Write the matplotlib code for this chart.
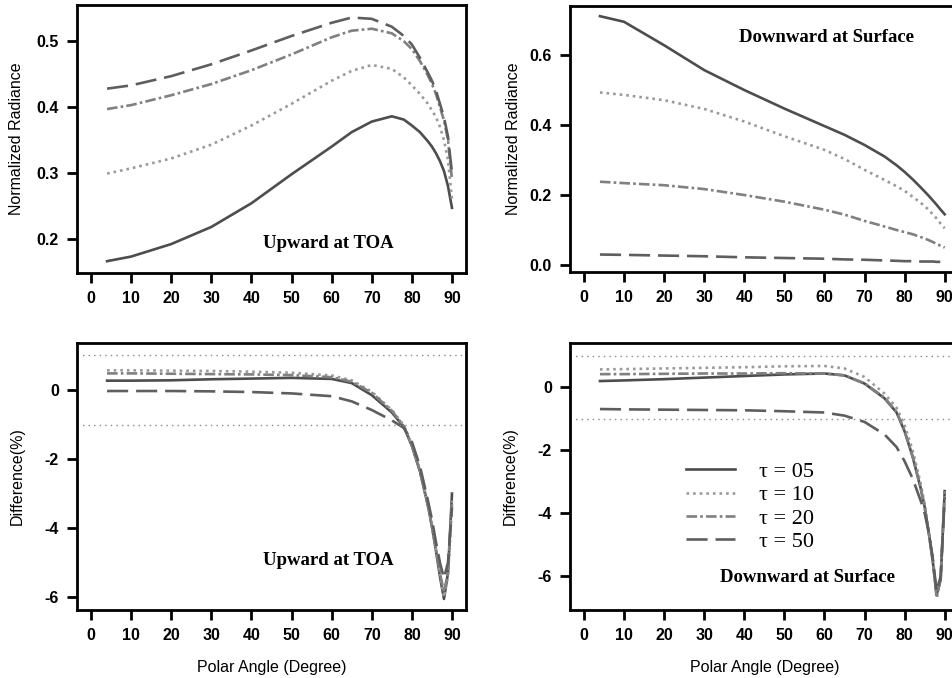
import numpy as np
import matplotlib.pyplot as plt

# angoli polari (gradi)
angoli = [4, 10, 20, 30, 40, 50, 60, 65, 70, 75, 78, 80, 82, 84, 85, 86, 87, 88, 89, 90]
etichette = ["\u03c4 = 05", "\u03c4 = 10", "\u03c4 = 20", "\u03c4 = 50"]

# radianza normalizzata, verso l'alto al TOA
rad_su = [
    [0.166, 0.173, 0.192, 0.218, 0.254, 0.298, 0.340, 0.362, 0.378, 0.386, 0.381, 0.372, 0.362, 0.348, 0.340, 0.330, 0.318, 0.303, 0.280, 0.247],
    [0.299, 0.307, 0.322, 0.343, 0.372, 0.405, 0.440, 0.455, 0.464, 0.458, 0.445, 0.433, 0.420, 0.405, 0.395, 0.385, 0.370, 0.350, 0.320, 0.260],
    [0.397, 0.403, 0.418, 0.435, 0.456, 0.480, 0.506, 0.516, 0.519, 0.512, 0.500, 0.488, 0.470, 0.448, 0.435, 0.420, 0.400, 0.380, 0.350, 0.290],
    [0.428, 0.433, 0.447, 0.465, 0.486, 0.508, 0.528, 0.536, 0.534, 0.522, 0.508, 0.495, 0.475, 0.452, 0.440, 0.425, 0.405, 0.385, 0.355, 0.300],
]

# radianza normalizzata, verso il basso alla superficie
rad_giu = [
    [0.711, 0.695, 0.628, 0.557, 0.500, 0.447, 0.397, 0.372, 0.343, 0.310, 0.285, 0.266, 0.245, 0.222, 0.210, 0.198, 0.185, 0.172, 0.158, 0.145],
    [0.493, 0.486, 0.471, 0.446, 0.410, 0.368, 0.329, 0.303, 0.272, 0.243, 0.225, 0.212, 0.195, 0.178, 0.168, 0.158, 0.145, 0.133, 0.118, 0.105],
    [0.238, 0.234, 0.228, 0.217, 0.200, 0.181, 0.158, 0.144, 0.126, 0.110, 0.100, 0.094, 0.088, 0.080, 0.076, 0.071, 0.066, 0.060, 0.055, 0.050],
    [0.030, 0.029, 0.027, 0.025, 0.022, 0.020, 0.018, 0.016, 0.015, 0.013, 0.012, 0.011, 0.011, 0.010, 0.010, 0.010, 0.010, 0.009, 0.009, 0.009],
]

# differenza percentuale, verso l'alto al TOA
diff_su = [
    [0.27, 0.27, 0.28, 0.31, 0.33, 0.35, 0.32, 0.20, -0.15, -0.65, -1.07, -1.62, -2.35, -3.35, -3.95, -4.65, -5.40, -6.05, -5.30, -3.00],
    [0.57, 0.57, 0.56, 0.55, 0.53, 0.50, 0.42, 0.28, -0.05, -0.58, -1.02, -1.58, -2.30, -3.30, -3.90, -4.60, -5.35, -6.00, -5.40, -3.20],
    [0.48, 0.48, 0.47, 0.46, 0.45, 0.43, 0.37, 0.24, -0.08, -0.60, -1.05, -1.60, -2.35, -3.35, -3.95, -4.60, -5.30, -5.85, -5.30, -3.30],
    [-0.03, -0.03, -0.03, -0.04, -0.06, -0.10, -0.18, -0.33, -0.58, -0.88, -1.10, -1.50, -2.20, -3.20, -3.75, -4.40, -5.00, -5.45, -5.00, -3.40],
]

# differenza percentuale, verso il basso alla superficie
diff_giu = [
    [0.20, 0.22, 0.26, 0.31, 0.36, 0.41, 0.44, 0.38, 0.12, -0.35, -0.80, -1.40, -2.20, -3.20, -3.80, -4.60, -5.50, -6.60, -6.10, -3.30],
    [0.57, 0.58, 0.60, 0.62, 0.64, 0.67, 0.68, 0.60, 0.33, -0.20, -0.65, -1.20, -2.00, -3.05, -3.70, -4.50, -5.40, -6.50, -6.00, -3.40],
    [0.42, 0.42, 0.43, 0.44, 0.44, 0.45, 0.44, 0.38, 0.13, -0.33, -0.78, -1.38, -2.20, -3.20, -3.80, -4.60, -5.50, -6.70, -6.10, -3.30],
    [-0.69, -0.70, -0.71, -0.72, -0.73, -0.76, -0.80, -0.90, -1.10, -1.50, -1.90, -2.35, -2.90, -3.60, -4.00, -4.60, -5.40, -6.50, -6.00, -3.50],
]

stili = ["-", (0, (1, 1.5)), (0, (4, 1.2, 1, 1.2)), (0, (8, 3))]
colori = ["#4d4d4d", "#9a9a9a", "#808080", "#5e5e5e"]

plt.rcParams['font.family'] = 'Liberation Sans'

fig = plt.figure(figsize=(9.53, 6.78), dpi=100)

def prepara_asse(ax, ylim, yticks, yfmt, ylabel, ylab_x, xlabel=None):
    ax.set_xlim(-3.5, 93.5)
    ax.set_ylim(*ylim)
    ax.set_xticks(range(0, 91, 10))
    ax.set_yticks(yticks)
    ax.set_yticklabels([yfmt % v for v in yticks])
    for s in ax.spines.values():
        s.set_linewidth(2)
    ax.tick_params(direction='out', length=7, width=2, labelsize=11.5, pad=6)
    for lab in ax.get_xticklabels() + ax.get_yticklabels():
        lab.set_fontweight('bold')
    ax.set_ylabel(ylabel, fontsize=11.5)
    ax.yaxis.set_label_coords(ylab_x, 0.5)
    if xlabel:
        ax.set_xlabel(xlabel, fontsize=11.5, labelpad=12)

def disegna(ax, serie):
    for i, valori in enumerate(serie):
        ax.plot(angoli, valori, linestyle=stili[i], color=colori[i], lw=1.9, label=etichette[i])

ax1 = fig.add_axes([0.0808, 0.5973, 0.4082, 0.3953])
disegna(ax1, rad_su)
prepara_asse(ax1, (0.148, 0.555), [0.2, 0.3, 0.4, 0.5], "%.1f", "Normalized Radiance", -0.137)
ax1.text(0.645, 0.11, "Upward at TOA", transform=ax1.transAxes, ha='center', va='center',
         family='Liberation Serif', fontweight='bold', fontsize=13.5)

ax2 = fig.add_axes([0.598, 0.5988, 0.408, 0.3923])
disegna(ax2, rad_giu)
prepara_asse(ax2, (-0.02, 0.74), [0.0, 0.2, 0.4, 0.6], "%.1f", "Normalized Radiance", -0.126)
ax2.text(0.66, 0.88, "Downward at Surface", transform=ax2.transAxes, ha='center', va='center',
         family='Liberation Serif', fontweight='bold', fontsize=13.5)

ax3 = fig.add_axes([0.0808, 0.1003, 0.4082, 0.3938])
disegna(ax3, diff_su)
for v in (1, -1):
    ax3.axhline(v, color='#888888', lw=1, linestyle=(0, (1, 3)))
prepara_asse(ax3, (-6.37, 1.36), [0, -2, -4, -6], "%d", "Difference(%)", -0.134, "Polar Angle (Degree)")
ax3.text(0.645, 0.185, "Upward at TOA", transform=ax3.transAxes, ha='center', va='center',
         family='Liberation Serif', fontweight='bold', fontsize=13.5)

ax4 = fig.add_axes([0.598, 0.1003, 0.408, 0.3938])
disegna(ax4, diff_giu)
for v in (1, -1):
    ax4.axhline(v, color='#888888', lw=1, linestyle=(0, (1, 3)))
prepara_asse(ax4, (-7.08, 1.41), [0, -2, -4, -6], "%d", "Difference(%)", -0.133, "Polar Angle (Degree)")
ax4.text(0.61, 0.12, "Downward at Surface", transform=ax4.transAxes, ha='center', va='center',
         family='Liberation Serif', fontweight='bold', fontsize=13.5)
ax4.legend(loc='upper left', bbox_to_anchor=(0.27, 0.597), frameon=False,
           prop={'family': 'Liberation Serif', 'size': 16}, handlelength=2.2,
           handletextpad=1.1, labelspacing=0.12, borderpad=0)

fig.savefig("out.png", dpi=100)
